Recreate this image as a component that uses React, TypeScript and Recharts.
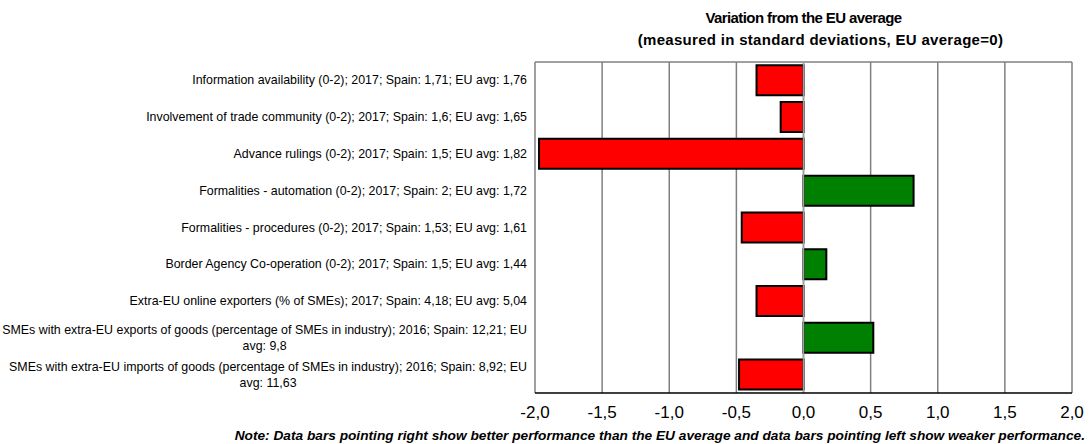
import React from 'react';
import { BarChart, Bar, XAxis, YAxis, CartesianGrid, ReferenceLine, Cell } from 'recharts';

const categories = [
  'Information availability (0-2); 2017; Spain: 1,71; EU avg: 1,76',
  'Involvement of trade community (0-2); 2017; Spain: 1,6; EU avg: 1,65',
  'Advance rulings (0-2); 2017; Spain: 1,5; EU avg: 1,82',
  'Formalities - automation (0-2); 2017; Spain: 2; EU avg: 1,72',
  'Formalities - procedures (0-2); 2017; Spain: 1,53; EU avg: 1,61',
  'Border Agency Co-operation (0-2); 2017; Spain: 1,5; EU avg: 1,44',
  'Extra-EU online exporters (% of SMEs); 2017; Spain: 4,18; EU avg: 5,04',
  'SMEs with extra-EU exports of goods (percentage of SMEs in industry); 2016; Spain: 12,21; EU avg: 9,8',
  'SMEs with extra-EU imports of goods (percentage of SMEs in industry); 2016; Spain: 8,92; EU avg: 11,63',
];

const variation = [-0.35, -0.17, -1.97, 0.82, -0.46, 0.17, -0.35, 0.52, -0.48];

const xTicks = [-2, -1.5, -1, -0.5, 0, 0.5, 1, 1.5, 2];

const data = categories.map((name, i) => ({ name, value: variation[i] }));

const LABEL_FONT = '"Liberation Sans Narrow", "Arial Narrow", "Liberation Sans", Arial, sans-serif';
const LABEL_SIZE = 12.4;

let ctx: CanvasRenderingContext2D | null = null;
const measure = (s: string) => {
  if (!ctx) ctx = document.createElement('canvas').getContext('2d');
  if (!ctx) return s.length * 5.3;
  ctx.font = `${LABEL_SIZE}px ${LABEL_FONT}`;
  return ctx.measureText(s).width;
};

// wrap long labels like Excel: first line right-aligned, rest centred under it
const wrap = (s: string, max: number) => {
  const words = s.split(' ');
  const lines: string[] = [];
  let cur = '';
  words.forEach((w) => {
    const next = cur ? cur + ' ' + w : w;
    if (measure(next) > max && cur) {
      lines.push(cur);
      cur = w;
    } else cur = next;
  });
  if (cur) lines.push(cur);
  return lines;
};

const CategoryTick = (props: any) => {
  const { y, payload } = props;
  const right = 527;
  const lines = wrap(payload.value, 532);
  if (lines.length === 1) {
    return (
      <text x={right} y={y} dy={4} textAnchor="end" fontSize={LABEL_SIZE} fontFamily={LABEL_FONT} fill="#000">
        {lines[0]}
      </text>
    );
  }
  const w = measure(lines[0]);
  const cx = right - w / 2;
  const lh = 16;
  const y0 = y - ((lines.length - 1) * lh) / 2 + 4;
  return (
    <g>
      {lines.map((l, i) => (
        <text key={i} x={cx} y={y0 + i * lh} textAnchor="middle" fontSize={LABEL_SIZE} fontFamily={LABEL_FONT} fill="#000">
          {l}
        </text>
      ))}
    </g>
  );
};

export default function App() {
  return (
    <div style={{ position: 'absolute', left: 0, top: 0, width: 1090, height: 444, background: '#fff' }}>
      <div
        style={{
          position: 'absolute',
          left: 535,
          width: 537,
          top: 7,
          textAlign: 'center',
          fontFamily: LABEL_FONT,
          fontWeight: 'bold',
          fontSize: 15,
          lineHeight: '22px',
        }}
      >
        <div style={{ letterSpacing: -0.6 }}>Variation from the EU average</div>
        <div style={{ paddingLeft: 34, letterSpacing: 0.3 }}>(measured in standard deviations, EU average=0)</div>
      </div>
      <BarChart
        width={1090}
        height={444}
        data={data}
        layout="vertical"
        margin={{ top: 62, right: 18, bottom: 21, left: 0 }}
        barCategoryGap="9%"
      >
        <CartesianGrid
          stroke="#808080"
          strokeWidth={1.5}
          vertical
          horizontal
          horizontalCoordinatesGenerator={({ offset }: any) => [offset.top]}
        />
        <XAxis
          type="number"
          domain={[-2, 2]}
          ticks={xTicks}
          height={30}
          tickFormatter={(v: number) => v.toFixed(1).replace('.', ',')}
          tick={{ fill: '#000', fontSize: 17, fontFamily: LABEL_FONT }}
          axisLine={{ stroke: '#000', strokeWidth: 1.5 }}
          tickLine={false}
          tickMargin={7}
        />
        <YAxis
          type="category"
          dataKey="name"
          width={535}
          tick={<CategoryTick />}
          axisLine={false}
          tickLine={false}
          interval={0}
        />
        <ReferenceLine x={0} stroke="#a0a0a0" strokeWidth={1.5} />
        <Bar dataKey="value" stroke="#000" strokeWidth={2} isAnimationActive={false}>
          {data.map((d, i) => (
            <Cell key={i} fill={d.value < 0 ? '#ff0000' : '#008000'} />
          ))}
        </Bar>
      </BarChart>
      <div
        style={{
          position: 'absolute',
          right: 5,
          top: 428,
          fontFamily: LABEL_FONT,
          fontWeight: 'bold',
          fontStyle: 'italic',
          fontSize: 13.7,
          whiteSpace: 'nowrap',
        }}
      >
        Note: Data bars pointing right show better performance than the EU average and data bars pointing left show weaker performance.
      </div>
    </div>
  );
}
